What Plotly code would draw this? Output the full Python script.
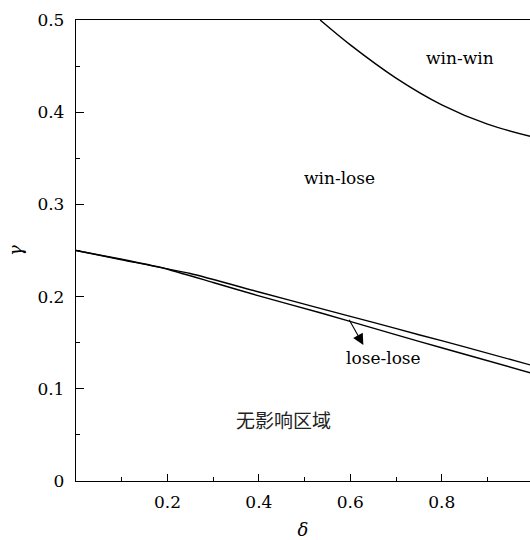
import plotly.graph_objects as go

# upper-right boundary (win-win / win-lose)
ww_delta = [0.534, 0.60, 0.70, 0.80, 0.90, 1.0]
ww_gamma = [0.500, 0.473, 0.437, 0.408, 0.387, 0.373]

# lower boundaries (win-lose / lose-lose / no-effect)
up_delta = [0.0, 0.10, 0.25, 0.40, 0.534, 0.65, 0.752, 0.85, 1.0]
up_gamma = [0.250, 0.240, 0.225, 0.205, 0.1873, 0.172, 0.1584, 0.1455, 0.125]

lo_delta = [0.0, 0.10, 0.19, 0.30, 0.40, 0.534, 0.65, 0.752, 0.85, 1.0]
lo_gamma = [0.250, 0.2405, 0.231, 0.2153, 0.2008, 0.1825, 0.1658, 0.1511, 0.1375, 0.1165]

x_ticks = [0.2, 0.4, 0.6, 0.8]
x_minor = [0.1, 0.3, 0.5, 0.7, 0.9]
y_ticks = [0, 0.1, 0.2, 0.3, 0.4, 0.5]
y_labels = ["0", "0.1", "0.2", "0.3", "0.4", "0.5"]
y_minor = [0.05, 0.15, 0.25, 0.35, 0.45]

FONT = "DejaVu Serif"
CJK = "Noto Sans CJK SC"
FS = 17

fig = go.Figure()
line = dict(color="black", width=1.4)
fig.add_trace(go.Scatter(x=ww_delta, y=ww_gamma, mode="lines", line=dict(line, shape="spline", smoothing=1.0)))
fig.add_trace(go.Scatter(x=up_delta, y=up_gamma, mode="lines", line=dict(line, shape="spline", smoothing=0.5)))
fig.add_trace(go.Scatter(x=lo_delta, y=lo_gamma, mode="lines", line=dict(line, shape="spline", smoothing=0.5)))

fig.update_layout(
    width=530, height=540,
    margin=dict(l=76, r=0, t=20, b=59),
    paper_bgcolor="white", plot_bgcolor="white",
    showlegend=False,
    font=dict(family=FONT, size=FS, color="black"),
)
fig.update_xaxes(
    range=[0, 0.993], showgrid=False, zeroline=False,
    showline=True, linecolor="black", linewidth=1.3, mirror=True,
    ticks="inside", ticklen=7, tickwidth=1.2, tickcolor="black",
    tickmode="array", tickvals=x_ticks, ticktext=[str(v) for v in x_ticks],
    tickfont=dict(family=FONT, size=FS),
    ticklabelstandoff=5,
    minor=dict(tickmode="array", tickvals=x_minor, ticks="inside", ticklen=4, tickwidth=1.2, tickcolor="black"),
    title=dict(text="<i>δ</i>", font=dict(family=FONT, size=18), standoff=12),
)
fig.update_yaxes(
    range=[0, 0.5], showgrid=False, zeroline=False,
    showline=True, linecolor="black", linewidth=1.3,
    ticks="inside", ticklen=8, tickwidth=1.2, tickcolor="black",
    tickmode="array", tickvals=y_ticks, ticktext=y_labels,
    tickfont=dict(family=FONT, size=FS),
    ticklabelstandoff=7,
    minor=dict(tickmode="array", tickvals=y_minor, ticks="inside", ticklen=4, tickwidth=1.2, tickcolor="black"),
    title=dict(text="<i>γ</i>", font=dict(family=FONT, size=18), standoff=10),
)

ann = [
    dict(x=0.84, y=0.459, text="win-win"),
    dict(x=0.577, y=0.329, text="win-lose"),
    dict(x=0.672, y=0.133, text="lose-lose"),
    dict(x=0.454, y=0.067, text="无影响区域", font=dict(family=CJK, size=19, color="#222")),
]
for a in ann:
    fig.add_annotation(x=a["x"], y=a["y"], xref="x", yref="y", text=a["text"], showarrow=False,
                       font=a.get("font", dict(family=FONT, size=17, color="black")))

fig.add_annotation(x=0.6285, y=0.1475, ax=0.5956, ay=0.1765, xref="x", yref="y", axref="x", ayref="y",
                   text="", showarrow=True, arrowhead=2, arrowsize=2.0, arrowwidth=1.1, arrowcolor="black")

fig.write_html("out.html")
